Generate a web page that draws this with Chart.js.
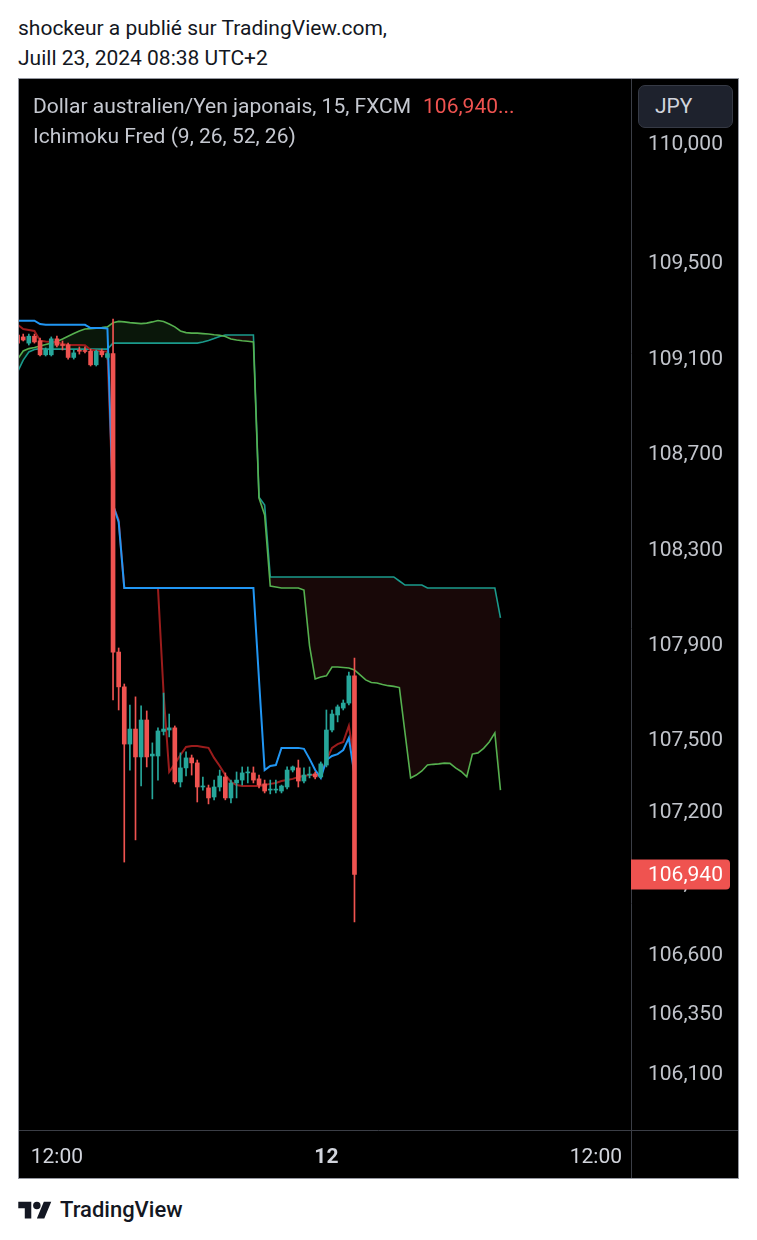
<!DOCTYPE html>
<html>
<head>
<meta charset="utf-8">
<script src="https://cdn.jsdelivr.net/npm/chart.js@4.4.1/dist/chart.umd.min.js"></script>
<style>
  html, body { margin: 0; padding: 0; background: #fff; }
  body { width: 757px; height: 1240px; position: relative; overflow: hidden;
         font-family: Roboto, "Noto Sans", sans-serif; color: #131722; }
  .hdr { position: absolute; left: 18px; font-size: 21px; line-height: 24px; white-space: nowrap; }
  #frame { position: absolute; left: 18px; top: 78px; width: 721px; height: 1101px;
           box-sizing: border-box; border: 1px solid #9598a1; background: #000; }
  #chartBox { position: absolute; left: 0; top: 0; width: 719px; height: 1099px; }
  .lg { position: absolute; left: 14px; font-size: 21px; line-height: 24px; color: #c5c8d0; white-space: nowrap; }
  .lg .px { color: #ef5350; margin-left: 12px; }
  #jpy { position: absolute; left: 619px; top: 6px; width: 95px; height: 43px; box-sizing: border-box;
         border: 1px solid #363a45; border-radius: 7px; background: #1e222d; color: #d1d4dc;
         font-size: 21px; line-height: 41px; padding-left: 16px; }
  #foot { position: absolute; left: 60px; top: 1197px; font-size: 22px; line-height: 26px; font-weight: 500; color: #131722; }
  #logo { position: absolute; left: 18px; top: 1198px; width: 34px; height: 26px; }
</style>
</head>
<body>
<div class="hdr" style="top:16px">shockeur a publié sur TradingView.com,</div>
<div class="hdr" style="top:46px">Juill 23, 2024 08:38 UTC+2</div>

<div id="frame">
  <div id="chartBox"><canvas id="ichimokuChart"></canvas></div>
  <div class="lg" style="top:15px">Dollar australien/Yen japonais, 15, FXCM<span class="px">106,940...</span></div>
  <div class="lg" style="top:45px">Ichimoku Fred (9, 26, 52, 26)</div>
  <div id="jpy">JPY</div>
</div>

<svg id="logo" viewBox="0 0 36 28" fill="#131722">
  <path d="M14 22H7V11H0V4h14v18zM28 22h-8l7.5-18h8L28 22z"/>
  <circle cx="20" cy="8" r="4"/>
</svg>
<div id="foot">TradingView</div>

<script>
/* ── Data (bar index 0 = 10:30, 54 = 00:00) ───────────── */
const firstBar = -1;

const openP  = [109.203, 109.195, 109.169, 109.198, 109.179, 109.120, 109.120, 109.187, 109.161, 109.162,
                109.109, 109.136, 109.136, 109.135, 109.078, 109.135, 109.109, 109.125, 107.873, 107.727,
                107.487, 107.550, 107.433, 107.588, 107.437, 107.437, 107.540, 107.546, 107.555, 107.328,
                107.387, 107.429, 107.408, 107.307, 107.303, 107.265, 107.307, 107.349, 107.261, 107.324,
                107.336, 107.366, 107.366, 107.341, 107.320, 107.294, 107.294, 107.290, 107.307, 107.378,
                107.387, 107.332, 107.357, 107.362, 107.349, 107.399, 107.546, 107.609, 107.638, 107.659,
                107.773];
const highP  = [109.211, 109.207, 109.207, 109.207, 109.190, 109.149, 109.195, 109.199, 109.178, 109.169,
                109.140, 109.153, 109.153, 109.144, 109.140, 109.144, 109.132, 109.270, 107.890, 107.739,
                107.651, 107.685, 107.647, 107.626, 107.492, 107.555, 107.701, 107.613, 107.563, 107.450,
                107.454, 107.441, 107.420, 107.349, 107.315, 107.336, 107.378, 107.366, 107.336, 107.370,
                107.391, 107.391, 107.391, 107.357, 107.336, 107.336, 107.336, 107.315, 107.391, 107.395,
                107.420, 107.387, 107.391, 107.370, 107.412, 107.630, 107.630, 107.651, 107.672, 107.789,
                107.848];
const lowP   = [109.165, 109.178, 109.161, 109.169, 109.115, 109.115, 109.115, 109.153, 109.140, 109.102,
                109.102, 109.123, 109.128, 109.073, 109.073, 109.111, 109.102, 107.672, 107.630, 106.992,
                107.378, 107.085, 107.311, 107.391, 107.257, 107.336, 107.525, 107.517, 107.320, 107.307,
                107.353, 107.357, 107.244, 107.294, 107.236, 107.253, 107.290, 107.253, 107.240, 107.261,
                107.315, 107.324, 107.324, 107.303, 107.282, 107.278, 107.282, 107.282, 107.299, 107.370,
                107.307, 107.324, 107.345, 107.341, 107.345, 107.391, 107.538, 107.580, 107.630, 107.651,
                106.741];
const closeP = [109.169, 109.182, 109.198, 109.174, 109.120, 109.140, 109.187, 109.160, 109.159, 109.109,
                109.128, 109.135, 109.134, 109.078, 109.135, 109.120, 109.125, 107.873, 107.727, 107.487,
                107.550, 107.433, 107.588, 107.433, 107.445, 107.542, 107.550, 107.555, 107.328, 107.387,
                107.429, 107.408, 107.307, 107.311, 107.261, 107.307, 107.353, 107.261, 107.324, 107.336,
                107.366, 107.368, 107.336, 107.315, 107.290, 107.294, 107.297, 107.311, 107.378, 107.391,
                107.332, 107.357, 107.357, 107.349, 107.404, 107.546, 107.613, 107.643, 107.659, 107.773,
                106.940];

// Conversion line (9) and base line (26), one value per candle
const tenkan = [109.246, 109.228, 109.224, 109.220, 109.179, 109.176, 109.174, 109.174, 109.165, 109.161,
                109.161, 109.161, 109.160, 109.141, 109.138, 109.135, 109.134, 108.490, 108.427, 108.142,
                108.142, 108.142, 108.142, 108.142, 108.142, 108.142, 107.701, 107.370, 107.404, 107.441,
                107.475, 107.479, 107.479, 107.475, 107.471, 107.429, 107.395, 107.357, 107.328, 107.315,
                107.311, 107.311, 107.311, 107.311, 107.315, 107.320, 107.324, 107.332, 107.336, 107.341,
                107.349, 107.353, 107.357, 107.357, 107.357, 107.420, 107.471, 107.487, 107.496, 107.563,
                107.412];
const kijun  = [109.263, 109.263, 109.263, 109.263, 109.249, 109.246, 109.246, 109.246, 109.246, 109.246,
                109.246, 109.246, 109.246, 109.232, 109.232, 109.232, 109.230, 108.490, 108.419, 108.142,
                108.142, 108.142, 108.142, 108.142, 108.142, 108.142, 108.142, 108.142, 108.142, 108.142,
                108.142, 108.142, 108.142, 108.142, 108.142, 108.142, 108.142, 108.142, 108.142, 108.142,
                108.142, 108.142, 108.142, 107.756, 107.378, 107.395, 107.399, 107.471, 107.471, 107.471,
                107.471, 107.467, 107.425, 107.378, 107.345, 107.420, 107.437, 107.445, 107.462, 107.513,
                107.357];

// Leading spans, already shifted 26 bars ahead (bar -1 .. 85)
const spanA  = [109.102, 109.136, 109.146, 109.151, 109.157, 109.163, 109.169, 109.176, 109.186, 109.198,
                109.209, 109.220, 109.228, 109.230, 109.232, 109.234, 109.237, 109.255, 109.260, 109.258,
                109.255, 109.253, 109.251, 109.253, 109.258, 109.264, 109.260, 109.249, 109.237, 109.220,
                109.213, 109.211, 109.211, 109.209, 109.207, 109.204, 109.202, 109.197, 109.186, 109.182,
                109.179, 109.177, 109.174, 108.519, 108.448, 108.150, 108.146, 108.142, 108.142, 108.142,
                108.142, 108.133, 107.899, 107.760, 107.768, 107.773, 107.810, 107.810, 107.808, 107.806,
                107.798, 107.777, 107.756, 107.745, 107.743, 107.737, 107.732, 107.729, 107.724, 107.534,
                107.345, 107.357, 107.374, 107.399, 107.402, 107.404, 107.407, 107.406, 107.387, 107.372,
                107.350, 107.445, 107.450, 107.469, 107.496, 107.534, 107.294];
const spanB  = [109.048, 109.098, 109.132, 109.142, 109.146, 109.144, 109.144, 109.144, 109.144, 109.144,
                109.144, 109.144, 109.144, 109.144, 109.144, 109.144, 109.144, 109.169, 109.169, 109.169,
                109.169, 109.169, 109.169, 109.169, 109.169, 109.169, 109.169, 109.169, 109.169, 109.169,
                109.169, 109.169, 109.169, 109.174, 109.180, 109.188, 109.197, 109.203, 109.203, 109.203,
                109.203, 109.203, 109.203, 108.523, 108.490, 108.188, 108.188, 108.188, 108.188, 108.188,
                108.188, 108.188, 108.188, 108.188, 108.188, 108.188, 108.188, 108.188, 108.188, 108.188,
                108.188, 108.188, 108.188, 108.188, 108.188, 108.188, 108.188, 108.188, 108.171, 108.154,
                108.154, 108.154, 108.154, 108.142, 108.142, 108.142, 108.142, 108.142, 108.142, 108.142,
                108.142, 108.142, 108.142, 108.142, 108.142, 108.142, 108.016];

const priceTicks     = [110.0, 109.5, 109.1, 108.7, 108.3, 107.9, 107.5, 107.2, 106.9, 106.6, 106.35, 106.1];
const timeTickBars   = [6, 54, 102];
const timeTickLabels = ['12:00', '12', '12:00'];
const lastPrice = 106.940;

/* ── Helpers ─────────────────────────────────────────── */
const UP = '#26a69a', DOWN = '#ef5350';
const fmtPrice = v => v.toFixed(3).replace('.', ',');
const series = arr => arr.map((v, k) => ({ x: firstBar + k, y: v }));
const candleColor = ctx => closeP[ctx.dataIndex] >= openP[ctx.dataIndex] ? UP : DOWN;

const bodies = openP.map((o, k) => ({ x: firstBar + k, y: [o, closeP[k]] }));
const wicks  = lowP.map((l, k) => ({ x: firstBar + k, y: [l, highP[k]] }));

Chart.defaults.font.family = "Roboto, 'Noto Sans', sans-serif";
Chart.defaults.font.size = 21;

// black pane, separators and the last price tag
const paneDecor = {
  id: 'paneDecor',
  beforeDraw(chart) {
    const { ctx, width, height } = chart;
    ctx.save();
    ctx.fillStyle = '#000';
    ctx.fillRect(0, 0, width, height);
    ctx.restore();
  },
  afterDraw(chart) {
    const { ctx, chartArea: a, width, height } = chart;
    const yScale = chart.scales.y;
    const xr = Math.round(a.right) + 0.5, yb = Math.round(a.bottom) + 0.5;
    ctx.save();
    ctx.strokeStyle = '#3b3e46';
    ctx.lineWidth = 1;
    ctx.beginPath();
    ctx.moveTo(xr, 0); ctx.lineTo(xr, height);
    ctx.moveTo(0, yb); ctx.lineTo(width, yb);
    ctx.stroke();

    const py = yScale.getPixelForValue(lastPrice);
    ctx.fillStyle = '#ef5350';
    ctx.beginPath();
    ctx.roundRect(a.right, py - 15, 99, 30, [0, 4, 4, 0]);
    ctx.fill();
    ctx.fillStyle = '#ffffff';
    ctx.font = "21px Roboto, 'Noto Sans', sans-serif";
    ctx.textAlign = 'left';
    ctx.textBaseline = 'middle';
    ctx.fillText(fmtPrice(lastPrice), a.right + 17, py + 1);
    ctx.restore();
  }
};

new Chart(document.getElementById('ichimokuChart'), {
  type: 'line',
  data: {
    datasets: [
      { type: 'bar', label: 'Body', data: bodies, backgroundColor: candleColor, borderWidth: 0,
        barThickness: 4, minBarLength: 1, grouped: false, order: 0, clip: 0 },
      { type: 'bar', label: 'Wick', data: wicks, backgroundColor: candleColor, borderWidth: 0,
        barThickness: 1, grouped: false, order: 1, clip: 0 },
      { label: 'Kijun', data: series(kijun), borderColor: '#2196f3', borderWidth: 2,
        pointRadius: 0, order: 2, clip: 0 },
      { label: 'Tenkan', data: series(tenkan), borderColor: '#9b1c1c', borderWidth: 2,
        pointRadius: 0, order: 3, clip: 0 },
      { label: 'Span A', data: series(spanA), borderColor: '#56b04f', borderWidth: 1.6,
        pointRadius: 0, order: 4, clip: 0,
        fill: { target: 5, above: 'rgba(76, 175, 80, 0.13)', below: 'rgba(239, 83, 80, 0.10)' } },
      { label: 'Span B', data: series(spanB), borderColor: '#1a9a8c', borderWidth: 1.6,
        pointRadius: 0, order: 5, clip: 0, fill: false }
    ]
  },
  options: {
    responsive: true,
    maintainAspectRatio: false,
    animation: false,
    layout: { padding: 0, autoPadding: false },
    plugins: {
      legend: { display: false },
      tooltip: { enabled: false },
      filler: { drawTime: 'beforeDatasetsDraw' }
    },
    scales: {
      x: {
        type: 'linear',
        min: -0.75,
        max: 108.25,
        offset: false,
        grid: { display: false, drawTicks: false },
        border: { display: false },
        afterBuildTicks: scale => { scale.ticks = timeTickBars.map(v => ({ value: v })); },
        afterFit: scale => { scale.height = 48; scale.paddingLeft = 0; scale.paddingRight = 0; },
        ticks: {
          autoSkip: false,
          maxRotation: 0,
          padding: 15,
          color: '#d1d4dc',
          font: ctx => ({ size: 21, weight: ctx.index === 1 ? 'bold' : 'normal' }),
          callback: (v, i) => timeTickLabels[i]
        }
      },
      y: {
        type: 'linear',
        position: 'right',
        min: 105.868,
        max: 110.277,
        grid: { display: false, drawTicks: false },
        border: { display: false },
        afterBuildTicks: scale => { scale.ticks = priceTicks.map(v => ({ value: v })); },
        afterFit: scale => { scale.width = 107; scale.paddingTop = 0; scale.paddingBottom = 0; },
        ticks: {
          crossAlign: 'near',
          padding: 17,
          color: '#c2c5cc',
          callback: v => fmtPrice(v)
        }
      }
    }
  },
  plugins: [paneDecor]
});
</script>
</body>
</html>
